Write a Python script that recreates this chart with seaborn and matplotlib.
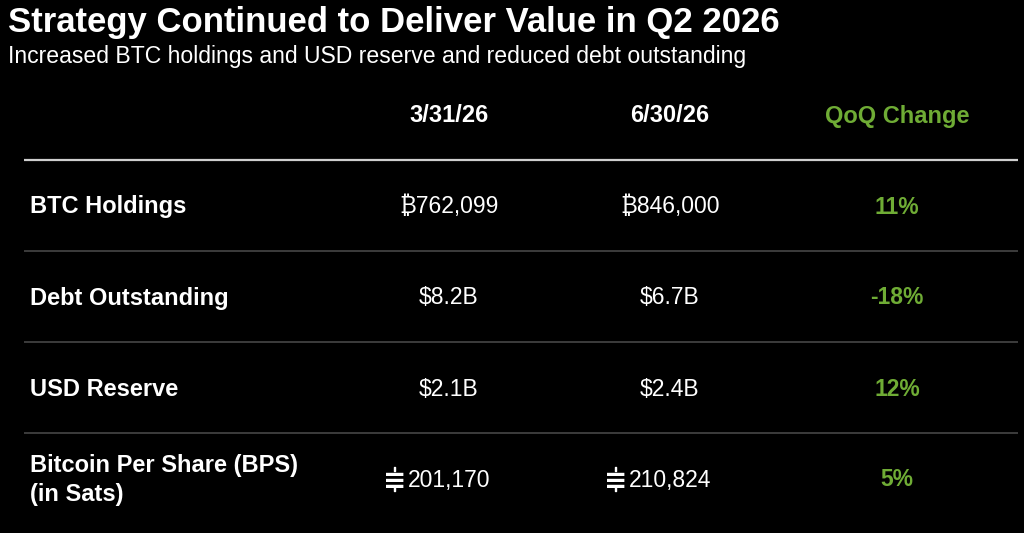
import matplotlib.pyplot as plt
import matplotlib.patheffects as pe
import seaborn as sns

# table content
metrics = ["BTC Holdings", "Debt Outstanding", "USD Reserve",
           "Bitcoin Per Share (BPS)\n(in Sats)"]
periods = ["3/31/26", "6/30/26"]
btc_holdings = [762099, 846000]
debt_outstanding_b = [8.2, 6.7]
usd_reserve_b = [2.1, 2.4]
bps_sats = [201170, 210824]
qoq_change_pct = [11, -18, 12, 5]

TITLE = "Strategy Continued to Deliver Value in Q2 2026"
SUBTITLE = "Increased BTC holdings and USD reserve and reduced debt outstanding"

GREEN = "#6fac35"
FONT = ["Liberation Sans", "Noto Sans", "DejaVu Sans"]

sns.set_theme(style="dark", rc={"figure.facecolor": "black",
                                "axes.facecolor": "black"})
plt.rcParams["font.family"] = FONT

fig = plt.figure(figsize=(10.24, 5.33), dpi=100)
ax = fig.add_axes([0, 0, 1, 1])
# x in pixels, y in row units (header = 0, rows 1..4)
row_step, row0 = 91.0, 116.0
ax.set_xlim(0, 1024)
ax.set_ylim((533 - row0) / row_step, -row0 / row_step)
ax.axis("off")

col_x = [449, 670, 897]
label_x = 30
LBL = 17
VAL = 16.5

fig.text(8 / 1024, 1 - 22 / 533, TITLE, color="white", fontsize=25,
         fontweight="bold", va="center", ha="left")
fig.text(8 / 1024, 1 - 56 / 533, SUBTITLE, color="white", fontsize=16.6,
         va="center", ha="left")

# header
for x, p in zip(col_x, periods):
    ax.text(x, 0, p, color="white", fontsize=LBL, fontweight="bold",
            ha="center", va="center")
ax.text(col_x[2], 0, "QoQ Change", color=GREEN, fontsize=LBL,
        fontweight="bold", ha="center", va="center")

# separators
ax.plot([24, 1018], [0.48, 0.48], color="#cfcfcf", lw=1.6,
        solid_capstyle="butt")
for r in range(1, len(metrics)):
    ax.plot([24, 1018], [r + 0.48, r + 0.48], color="#3c3c3c", lw=1.4,
            solid_capstyle="butt")

rows = [
    ["\u20bf{:,.0f}".format(v) for v in btc_holdings],
    ["${:.1f}B".format(v) for v in debt_outstanding_b],
    ["${:.1f}B".format(v) for v in usd_reserve_b],
    None,
]

tick_fx = [pe.withStroke(linewidth=1.0, foreground="white")]

for i, name in enumerate(metrics):
    r = i + 1
    ax.text(label_x, r, name, color="white", fontsize=LBL, fontweight="bold",
            ha="left", va="center", linespacing=1.3)
    if rows[i] is not None:
        for x, s in zip(col_x, rows[i]):
            ax.text(x, r, s, color="white", fontsize=VAL, ha="center",
                    va="center")
    else:
        # satoshi sign: triple bar with short ticks above and below
        for x, v in zip(col_x, bps_sats):
            num = ax.text(x, r, "{:,.0f}".format(v), color="white",
                          fontsize=VAL, ha="center", va="center")
            sym = ax.annotate("\u2261", xy=(0, 0.5), xycoords=num,
                              xytext=(-1.2, -0.6), textcoords="offset points",
                              ha="right", va="center", color="white",
                              fontsize=20, fontweight="bold",
                              family=["DejaVu Sans"])
            for dy in (8.7, -5.9):
                ax.annotate("|", xy=(0.5, 0.5), xycoords=sym,
                            xytext=(0, dy), textcoords="offset points",
                            ha="center", va="center", color="white",
                            fontsize=3.0, fontweight="bold",
                            family=["DejaVu Sans"], path_effects=tick_fx)
    sign = "-" if qoq_change_pct[i] < 0 else ""
    ax.text(col_x[2], r, "{}{}%".format(sign, abs(qoq_change_pct[i])),
            color=GREEN, fontsize=VAL, fontweight="bold", ha="center",
            va="center")

fig.savefig("out.png", dpi=100, facecolor="black")
